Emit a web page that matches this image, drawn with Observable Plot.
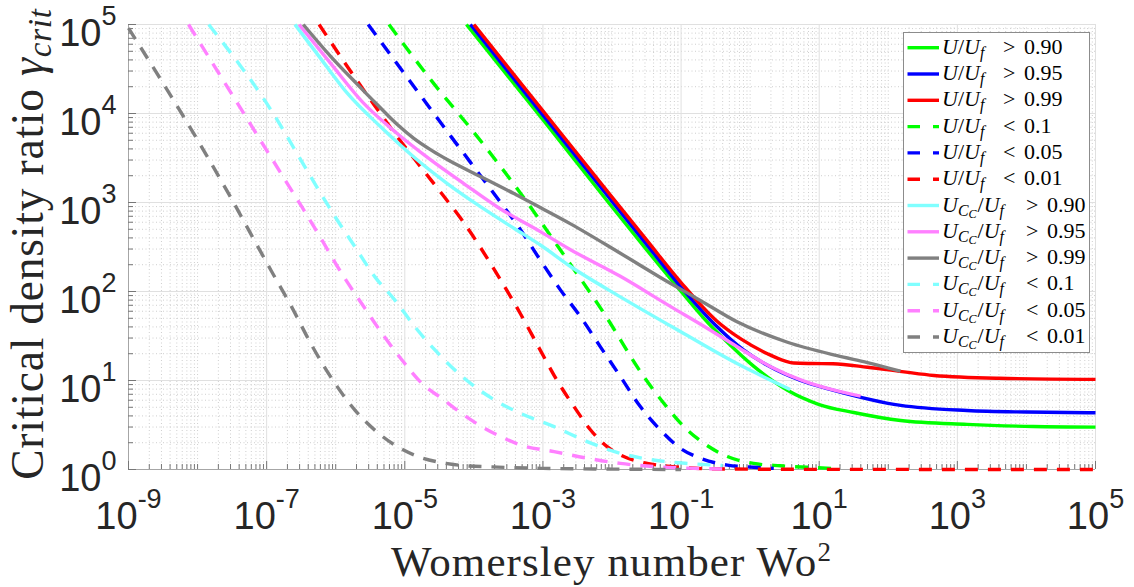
<!DOCTYPE html>
<html>
<head>
<meta charset="utf-8">
<script src="https://cdn.jsdelivr.net/npm/d3@7"></script>
<script src="https://cdn.jsdelivr.net/npm/@observablehq/plot@0.6"></script>
<style>
  html, body { margin: 0; padding: 0; background: #fff; }
  #chart { position: relative; width: 1134px; height: 587px; }
  text { white-space: pre; }
</style>
</head>
<body>
<div id="chart"></div>
<script>
// ---------------- data ----------------
// U/U_f > 0.90 (green solid)
const uGt090X = [7.8e-5, 1e-3, 8.9e-3, 0.0316, 0.1, 0.214, 0.468, 1.12, 3.47, 10, 31.6, 151, 1380, 12600, 1e5];
const uGt090Y = [1e5, 8500, 1000, 295, 100, 50, 26.9, 14.5, 7.76, 5.37, 4.37, 3.55, 3.21, 3.04, 2.99];
// U/U_f > 0.95 (blue solid)
const uGt095X = [8.9e-5, 1e-3, 0.01, 0.0316, 0.1, 0.316, 0.81, 1.78, 5.37, 16.2, 151, 1380, 10000, 1e5];
const uGt095Y = [1e5, 9550, 1030, 339, 112, 41.7, 21.9, 14.8, 10, 7.76, 5.25, 4.6, 4.42, 4.34];
// U/U_f > 0.99 (red solid)
const uGt099X = [1e-4, 1e-3, 0.01, 0.0316, 0.1, 0.316, 0.724, 1.78, 3.16, 4.27, 7.94, 15.8, 50, 158, 457, 3980, 1e5];
const uGt099Y = [1e5, 10700, 1150, 380, 126, 47.9, 29.5, 20, 16.6, 15.7, 15.5, 15.4, 14.1, 12.6, 11.4, 10.6, 10.3];
// U/U_f < 0.1 (green dashed)
const uLt010X = [5.9e-6, 2.4e-5, 1.12e-4, 4.68e-4, 1.78e-3, 7.59e-3, 0.0288, 0.0562, 0.11, 0.214, 0.468, 1.12, 2.75, 6.6, 15];
const uLt010Y = [1e5, 23700, 5500, 1290, 295, 57.5, 11.1, 5.55, 3.03, 1.97, 1.40, 1.17, 1.10, 1.06, 1.03];
// U/U_f < 0.05 (blue dashed)
const uLt005X = [2.95e-6, 9.8e-6, 4.68e-5, 1.95e-4, 4.68e-4, 9.1e-4, 1.78e-3, 3.47e-3, 6.76e-3, 0.0132, 0.0257, 0.0501, 0.0977, 0.19, 0.468, 1.12, 2.2];
const uLt005Y = [1e5, 28200, 5500, 1260, 501, 227, 105, 52.5, 24, 11.1, 5.09, 2.78, 1.73, 1.34, 1.12, 1.06, 1.03];
// U/U_f < 0.01 (red dashed)
const uLt001X = [5.75e-7, 1.48e-6, 3.63e-6, 7.76e-6, 1.7e-5, 3.72e-5, 6.76e-5, 2.29e-4, 4.68e-4, 9.1e-4, 1.58e-3, 2.82e-3, 4.9e-3, 8.5e-3, 0.0148, 0.0324, 0.0708, 0.25, 3.16, 1e5];
const uLt001Y = [1e5, 33500, 12400, 5500, 2510, 1160, 631, 146, 57, 22.1, 10.2, 5.09, 2.78, 1.81, 1.40, 1.17, 1.08, 1.02, 1.005, 1.0];
// U_Cc/U_f > 0.90 (cyan solid)
const ccGt090X = [2.57e-7, 6.3e-7, 1.48e-6, 4.47e-6, 1.35e-5, 4.17e-5, 1.26e-4, 3.8e-4, 9.3e-4, 2.51e-3, 0.0132, 0.0977, 0.646, 3.8];
const ccGt090Y = [1e5, 39800, 16800, 7080, 3240, 1620, 891, 513, 331, 191, 87.1, 35.5, 15.5, 7.94];
// U_Cc/U_f > 0.95 (pink solid)
const ccGt095X = [2.95e-7, 8.5e-7, 2.57e-6, 7.76e-6, 2.4e-5, 7.24e-5, 2.19e-4, 9.3e-4, 2.51e-3, 0.0132, 0.0708, 0.214, 0.646, 1.95, 6.03, 18.2, 39.8];
const ccGt095Y = [1e5, 36300, 12900, 5960, 2990, 1620, 891, 468, 295, 148, 67.6, 40.7, 24, 14.4, 9.85, 7.65, 6.68];
// U_Cc/U_f > 0.99 (gray solid)
const ccGt099X = [3.39e-7, 8.5e-7, 2.04e-6, 3.98e-6, 7.94e-6, 1.35e-5, 2.51e-5, 4.17e-5, 1.26e-4, 3.8e-4, 9.3e-4, 2.51e-3, 0.0132, 0.0708, 0.19, 0.646, 3.47, 18.2, 50, 150];
const ccGt099Y = [1e5, 43600, 21400, 12600, 7410, 5250, 3800, 3020, 1950, 1260, 871, 575, 269, 123, 79.4, 45.7, 26.9, 19, 15.9, 12.7];
// U_Cc/U_f < 0.1 (cyan dashed)
const ccLt010X = [1.45e-8, 1.58e-7, 2.57e-7, 5.01e-7, 9.8e-7, 1.91e-6, 3.72e-6, 7.24e-6, 1.41e-5, 2.75e-5, 5.37e-5, 1.05e-4, 2.04e-4, 4.68e-4, 1.45e-3, 4.37e-3, 0.0132, 0.0398, 0.123, 0.4];
const ccLt010Y = [1e5, 7410, 3890, 1620, 692, 316, 145, 79.4, 39.8, 21.9, 13, 8.45, 5.98, 4.29, 3.03, 2.06, 1.52, 1.28, 1.17, 1.11];
// U_Cc/U_f < 0.05 (pink dashed)
const ccLt005X = [7.4e-9, 1.07e-7, 1.86e-7, 3.24e-7, 6.3e-7, 1.23e-6, 2.4e-6, 4.68e-6, 9.1e-6, 1.78e-5, 3.47e-5, 6.76e-5, 1.32e-4, 2.51e-4, 4.9e-4, 1.45e-3, 4.37e-3, 0.0132, 0.0398, 0.126, 0.5];
const ccLt005Y = [1e5, 3550, 1780, 891, 380, 158, 72.4, 33.9, 17, 9.23, 6.25, 4.24, 3.01, 2.32, 1.87, 1.59, 1.34, 1.17, 1.08, 1.035, 1.01];
// U_Cc/U_f < 0.01 (gray dashed)
const ccLt001X = [1.0e-9, 1.35e-8, 3.16e-8, 6.17e-8, 1.17e-7, 2.29e-7, 4.47e-7, 9.8e-7, 1.91e-6, 3.72e-6, 7.24e-6, 1.41e-5, 3.09e-5, 6.76e-5, 1.82e-4, 1e-3, 0.01, 0.1];
const ccLt001Y = [91000, 3390, 1070, 417, 170, 67.6, 25.1, 9.23, 4.62, 2.75, 1.87, 1.44, 1.21, 1.11, 1.07, 1.03, 1.01, 1.0];

// legend / series descriptions
const seriesCc    = [false, false, false, false, false, false, true, true, true, true, true, true];
const seriesRel   = [">", ">", ">", "<", "<", "<", ">", ">", ">", "<", "<", "<"];
const seriesVal   = ["0.90", "0.95", "0.99", "0.1", "0.05", "0.01", "0.90", "0.95", "0.99", "0.1", "0.05", "0.01"];
const seriesColor = ["#00ff00", "#0000ff", "#ff0000", "#00ff00", "#0000ff", "#ff0000",
                     "#80ffff", "#ff80ff", "#808080", "#80ffff", "#ff80ff", "#808080"];
const seriesDash  = [false, false, false, true, true, true, false, false, false, true, true, true];
const seriesX = [uGt090X, uGt095X, uGt099X, uLt010X, uLt005X, uLt001X, ccGt090X, ccGt095X, ccGt099X, ccLt010X, ccLt005X, ccLt001X];
const seriesY = [uGt090Y, uGt095Y, uGt099Y, uLt010Y, uLt005Y, uLt001Y, ccGt090Y, ccGt095Y, ccGt099Y, ccLt010Y, ccLt005Y, ccLt001Y];

// tick values
const xMajor = [1e-9, 1e-7, 1e-5, 1e-3, 1e-1, 1e1, 1e3, 1e5];
const yMajor = [1, 10, 100, 1e3, 1e4, 1e5];
const xMinor = [];
for (let e = -9; e <= 4; e++) for (let m = 1; m <= 9; m++) {
  if (m === 1 && (e + 9) % 2 === 0) continue;
  xMinor.push(m * Math.pow(10, e));
}
const yMinor = [];
for (let e = 0; e <= 4; e++) for (let m = 2; m <= 9; m++) yMinor.push(m * Math.pow(10, e));

const DASH = "13,10";
const lineMarks = seriesX.map((xs, i) =>
  Plot.line(xs.map((x, j) => ({x, y: seriesY[i][j]})), {
    x: "x", y: "y",
    stroke: seriesColor[i], strokeWidth: 3.4,
    strokeDasharray: seriesDash[i] ? DASH : undefined,
    strokeLinecap: "butt", strokeLinejoin: "round",
    curve: "monotone-x"
  })
);

const fmt = d => `10^${Math.round(Math.log10(d))}`;

const chart = Plot.plot({
  width: 1134, height: 587,
  marginLeft: 128, marginRight: 39, marginTop: 24, marginBottom: 118,
  style: {background: "white", fontFamily: "'Liberation Sans', Arial, sans-serif"},
  x: {type: "log", domain: [1e-9, 1e5], label: null},
  y: {type: "log", domain: [1, 1e5], label: null},
  marks: [
    Plot.gridX(xMinor, {stroke: "#cfcfcf", strokeOpacity: 1, strokeDasharray: "1,2.5"}),
    Plot.gridY(yMinor, {stroke: "#cfcfcf", strokeOpacity: 1, strokeDasharray: "1,2.5"}),
    Plot.gridX(xMajor, {stroke: "#e0e0e0", strokeOpacity: 1}),
    Plot.gridY(yMajor, {stroke: "#e0e0e0", strokeOpacity: 1}),
    Plot.ruleY([1], {stroke: "#a6a6a6"}),
    Plot.ruleX([1e-9], {stroke: "#a6a6a6"}),
    Plot.axisX(xMinor, {tickSize: -5, stroke: "#777", fill: "none", label: null}),
    Plot.axisY(yMinor, {tickSize: -5, stroke: "#777", fill: "none", label: null}),
    Plot.axisX(xMajor, {tickSize: -8, stroke: "#777", fill: "none", label: null}),
    Plot.axisY(yMajor, {tickSize: -8, stroke: "#777", fill: "none", label: null}),
    Plot.axisX(xMajor, {tickSize: 0, tickPadding: 33, tickFormat: fmt, fontSize: 38, fill: "#262626", label: null}),
    Plot.axisY(yMajor, {tickSize: 0, tickPadding: 12, dy: 9, tickFormat: fmt, fontSize: 38, fill: "#262626", label: null}),
    ...lineMarks
  ]
});
document.getElementById("chart").appendChild(chart);

const svg = d3.select(chart);
// superscript exponents on tick labels
svg.selectAll('g[aria-label="x-axis tick label"] text, g[aria-label="y-axis tick label"] text').each(function () {
  const parts = this.textContent.split("^");
  this.textContent = parts[0];
  d3.select(this).append("tspan").attr("dy", -21).attr("font-size", 27).text(parts[1]);
});

const SERIF = "'Liberation Serif', 'Times New Roman', serif";
// x axis title
const xt = svg.append("text")
  .attr("x", 611.5).attr("y", 576).attr("text-anchor", "middle")
  .attr("font-family", SERIF).attr("font-size", 43).attr("letter-spacing", 1.1).attr("fill", "#262626")
  .text("Womersley number Wo");
xt.append("tspan").attr("dy", -15).attr("font-size", 27).text("2");

// y axis title
const yt = svg.append("text")
  .attr("transform", "translate(43,244) rotate(-90)").attr("text-anchor", "middle")
  .attr("font-family", SERIF).attr("font-size", 45.5).attr("letter-spacing", 0.8).attr("fill", "#262626")
  .text("Critical density ratio ");
yt.append("tspan").attr("font-style", "italic").text("γ");
yt.append("tspan").attr("font-style", "italic").attr("font-size", 33).attr("dy", 8).text("crit");

// legend
const lg = svg.append("g").attr("text-anchor", "start");
lg.append("rect").attr("x", 903.5).attr("y", 32.5).attr("width", 186).attr("height", 320)
  .attr("fill", "white").attr("stroke", "#8c8c8c").attr("stroke-width", 1);
const FS = 22;
seriesColor.forEach((c, i) => {
  const yy = 47.7 + i * 26.3;
  lg.append("line").attr("x1", 907.5).attr("x2", 939).attr("y1", yy).attr("y2", yy)
    .attr("stroke", c).attr("stroke-width", 3.4)
    .attr("stroke-dasharray", seriesDash[i] ? "12.5,13" : null);
  const t = lg.append("text").attr("x", 942).attr("y", yy + 6).attr("text-anchor", "start")
    .attr("font-family", SERIF).attr("font-size", FS).attr("fill", "#000");
  t.append("tspan").attr("font-style", "italic").text("U");
  if (seriesCc[i]) {
    t.append("tspan").attr("font-style", "italic").attr("font-size", FS * 0.72).attr("dy", 4).text("C");
    t.append("tspan").attr("font-style", "italic").attr("font-size", FS * 0.55).attr("dy", 2).text("C");
    t.append("tspan").attr("dy", -6).attr("dx", 1).text("/");
  } else {
    t.append("tspan").text("/");
  }
  t.append("tspan").attr("font-style", "italic").text("U");
  t.append("tspan").attr("font-style", "italic").attr("font-size", FS * 0.72).attr("dy", 4).text("f");
  const off = seriesCc[i] ? 23 : 0;
  t.append("tspan").attr("dy", -4).attr("x", 1003 + off).text(seriesRel[i]);
  t.append("tspan").attr("x", 1024 + off).text(seriesVal[i]);
});
</script>
</body>
</html>
